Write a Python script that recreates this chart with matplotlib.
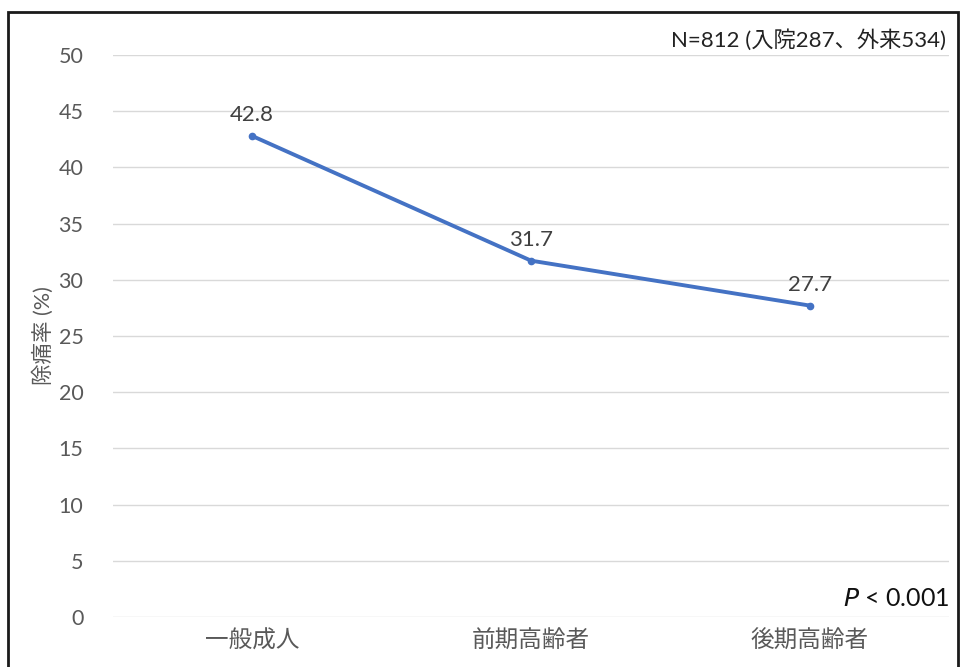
import matplotlib.pyplot as plt
from matplotlib.patches import Rectangle

plt.rcParams['font.family'] = ['Lato', 'Noto Sans CJK JP', 'DejaVu Sans']

# pain relief rate by age group
groups = ['一般成人', '前期高齢者', '後期高齢者']
relief_rate = [42.8, 31.7, 27.7]
y_ticks = [0, 5, 10, 15, 20, 25, 30, 35, 40, 45, 50]

GRAY = '#595959'
BLUE = '#4472C4'

fig = plt.figure(figsize=(9.62, 6.67), dpi=100)
ax = fig.add_axes([0.117, 0.075, 0.870, 0.8426])

x = list(range(len(groups)))
ax.plot(x, relief_rate, color=BLUE, linewidth=2.8, marker='o', markersize=4.5,
        solid_capstyle='round')
for xi, v in zip(x, relief_rate):
    ax.annotate(f'{v}', (xi, v), xytext=(0, 8), textcoords='offset points',
                ha='center', va='bottom', fontsize=16, color='#404040')

ax.set_xlim(-0.5, 2.5)
ax.set_ylim(0, 50)
ax.set_yticks(y_ticks)
ax.set_xticks(x)
ax.set_xticklabels(groups, fontsize=17, color=GRAY)
ax.tick_params(axis='y', labelsize=15.5, labelcolor=GRAY, length=0, pad=21)
ax.tick_params(axis='x', length=0, pad=9)
ax.grid(axis='y', color='#d9d9d9', linewidth=1)
ax.set_axisbelow(True)
for s in ax.spines.values():
    s.set_visible(False)

ax.set_ylabel('除痛率 (%)', fontsize=15.5, color=GRAY, labelpad=3)

fig.text(0.983, 0.94, 'N=812 (入院287、外来534)', ha='right', va='center',
         fontsize=16, color='#222222')
fig.text(0.987, 0.102, r'$\it{P}$ < 0.001', ha='right', va='center',
         fontsize=18, color='#111111')

# frame around the figure
fig.patches.append(Rectangle((8 / 962, -0.01), 950 / 962, 1.01 - 12 / 667,
                             transform=fig.transFigure, fill=False,
                             edgecolor='#1a1a1a', linewidth=2))

fig.savefig('out.png', dpi=100)
